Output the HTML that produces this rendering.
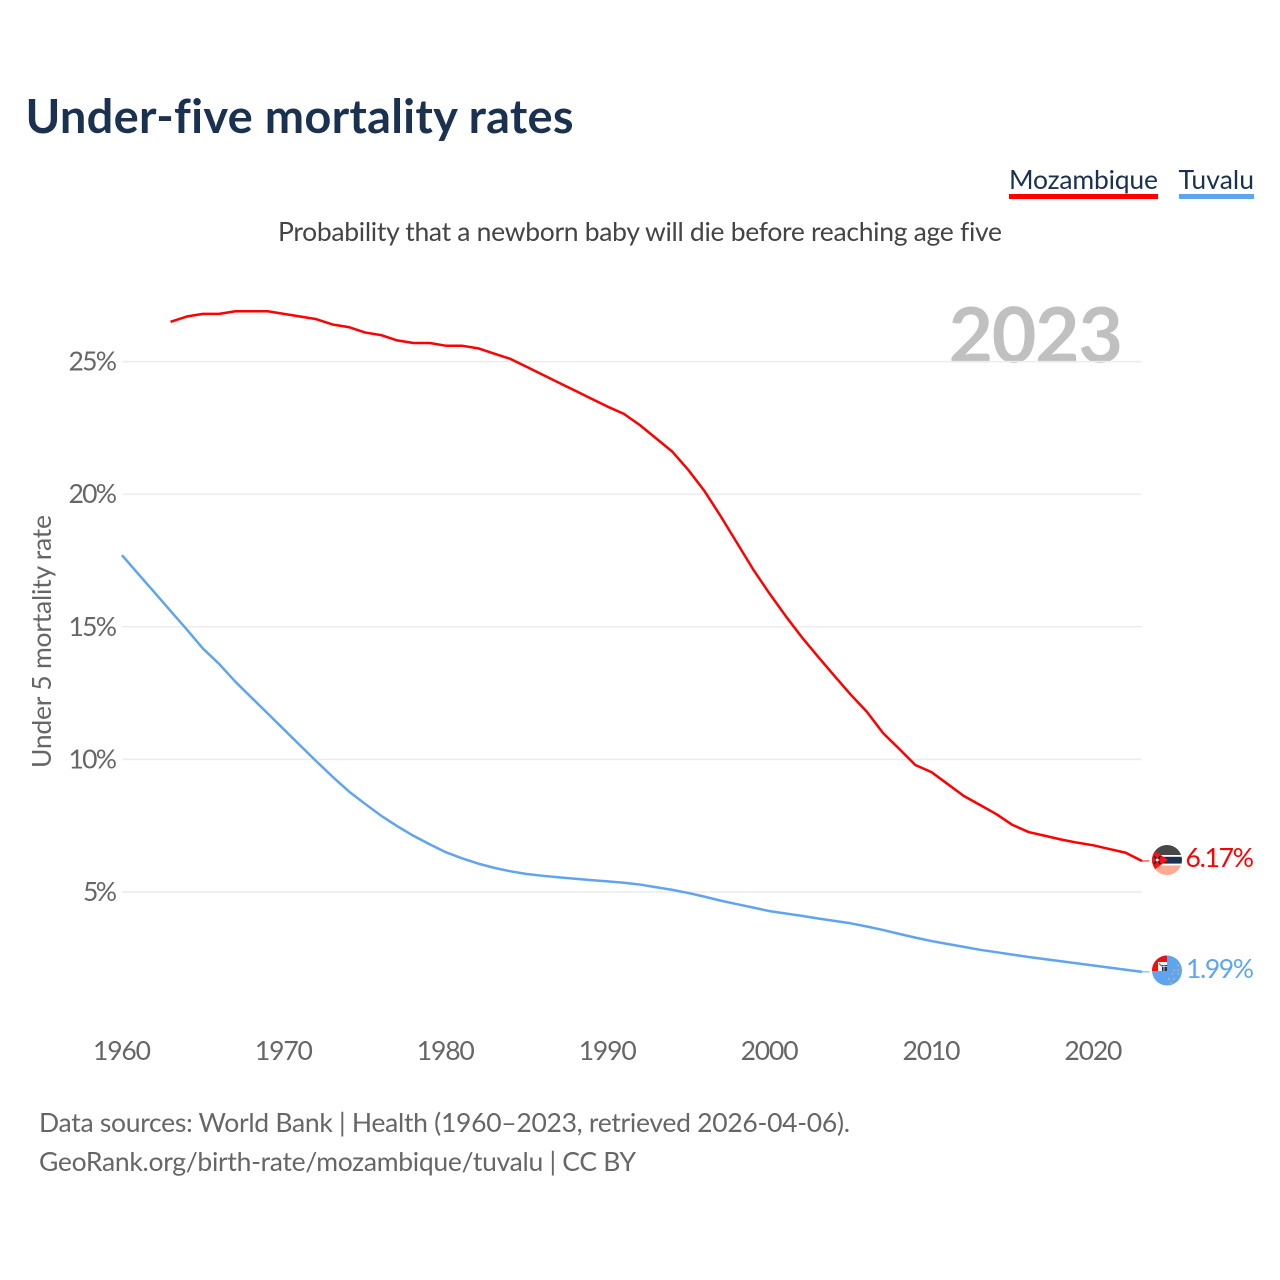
<!DOCTYPE html>
<html lang="en">
<head>
<meta charset="utf-8">
<title>Under-five mortality rates</title>
<style>
html,body{margin:0;padding:0;background:#fff;width:1280px;height:1280px;overflow:hidden}
svg{display:block}
text{font-family:"Lato","Carlito","Liberation Sans",sans-serif;font-variant-ligatures:none}
</style>
</head>
<body>
<svg id="chart" xmlns="http://www.w3.org/2000/svg" width="1280" height="1280" viewBox="0 0 1280 1280">
  <rect x="0" y="0" width="1280" height="1280" fill="#fff"/>
  <text x="25.500" y="133" font-size="47" font-weight="700" fill="#1a3150" textLength="548" lengthAdjust="spacing">Under-five mortality rates</text>
  <g>
    <text x="1009" y="189" font-size="26.500" fill="#1a3150" textLength="149" lengthAdjust="spacing">Mozambique</text>
    <rect x="1009" y="194" width="149" height="5" fill="#ff0000"/>
    <text x="1178.500" y="189" font-size="26.500" fill="#1a3150" textLength="75.500" lengthAdjust="spacing">Tuvalu</text>
    <rect x="1179" y="194" width="75" height="5" fill="#5fa5ee"/>
  </g>
  <text x="278" y="241" font-size="26.500" fill="#444" textLength="724" lengthAdjust="spacing">Probability that a newborn baby will die before reaching age five</text>
  <text x="948.500" y="362.500" font-size="77" font-weight="700" fill="#c0c0c0" textLength="174.500" lengthAdjust="spacing">2023</text>
  <text transform="translate(51,768) rotate(-90)" x="0" y="0" font-size="26.500" fill="#666" textLength="253" lengthAdjust="spacing">Under 5 mortality rate</text>
  <g id="grid"></g>
  <g id="yticks"></g>
  <g id="xticks"></g>
  <g id="lines"></g>

  <defs>
    <clipPath id="clip-moz"><circle cx="1167" cy="860" r="15"/></clipPath>
    <clipPath id="clip-tuv"><circle cx="1167" cy="970.500" r="15"/></clipPath>
  </defs>
  <g clip-path="url(#clip-moz)">
    <rect x="1152" y="845" width="30" height="30" fill="#fff"/>
    <rect x="1152" y="845" width="30" height="10" fill="#474747"/>
    <rect x="1152" y="856.800" width="30" height="6.800" fill="#1b3350"/>
    <rect x="1152" y="865.500" width="30" height="9.500" fill="#ffab92"/>
    <polygon points="1148,846 1168,860 1148,874" fill="#ff1010"/>
    <path d="M1154 856l6.500 8M1160.500 856l-6.500 8" stroke="#1b2a3a" stroke-width="1.700" fill="none"/>
    <circle cx="1157.200" cy="860" r="1.500" fill="#dfe6ee"/>
  </g>
  <g clip-path="url(#clip-tuv)">
    <rect x="1152" y="955" width="30" height="31" fill="#5fa5ee"/>
    <rect x="1152" y="955" width="15" height="16" fill="#f01010"/>
    <rect x="1158" y="962" width="9" height="9" fill="#f4f6fa"/>
    <path d="M1159 963.500l7 6.500" stroke="#c33" stroke-width="1" fill="none"/>
    <rect x="1162" y="965" width="5" height="6" fill="#1b3350"/>
    <path d="M1162 966.500h5M1164 965v6" stroke="#e8e8f0" stroke-width="0.800" fill="none"/>
    <g fill="#c9ad90">
      <rect x="1177.500" y="964.500" width="1.700" height="1.700"/>
      <rect x="1173.500" y="969.500" width="1.700" height="1.700"/>
      <rect x="1177.500" y="969.500" width="1.700" height="1.700"/>
      <rect x="1171.500" y="973" width="1.700" height="1.700"/>
      <rect x="1177.500" y="973" width="1.700" height="1.700"/>
      <rect x="1168" y="978" width="1.700" height="1.700"/>
      <rect x="1173" y="978" width="1.700" height="1.700"/>
      <rect x="1170" y="982" width="1.700" height="1.700"/>
    </g>
  </g>
  <text x="1185.500" y="867" font-size="26.500" fill="#ff0000" textLength="68.500" lengthAdjust="spacing">6.17%</text>
  <text x="1186" y="978" font-size="26.500" fill="#5fa5ee" textLength="68" lengthAdjust="spacing">1.99%</text>
  <text x="39" y="1132" font-size="26.500" fill="#666" textLength="811" lengthAdjust="spacing">Data sources: World Bank | Health (1960–2023, retrieved 2026-04-06).</text>
  <text x="39" y="1171" font-size="26.500" fill="#666" textLength="597" lengthAdjust="spacing">GeoRank.org/birth-rate/mozambique/tuvalu | CC BY</text>
</svg>
<script>
const xTickYears = [1960, 1970, 1980, 1990, 2000, 2010, 2020];
const yTickValues = [5, 10, 15, 20, 25];
const mozambiqueStartYear = 1963;
const mozambiqueValues = [26.5,26.7,26.8,26.8,26.9,26.9,26.9,26.8,26.7,26.6,26.4,26.3,26.1,26.0,25.8,25.7,25.7,25.6,25.6,25.5,25.3,25.1,24.8,24.5,24.2,23.9,23.6,23.3,23.03,22.6,22.1,21.6,20.9,20.1,19.15,18.15,17.15,16.25,15.4,14.6,13.87,13.15,12.45,11.8,11.0,10.4,9.79,9.52,9.07,8.62,8.28,7.94,7.53,7.26,7.12,6.98,6.86,6.76,6.62,6.48,6.17];
const tuvaluStartYear = 1960;
const tuvaluValues = [17.7,17.0,16.3,15.6,14.9,14.18,13.6,12.93,12.33,11.73,11.13,10.53,9.93,9.35,8.8,8.33,7.88,7.48,7.12,6.8,6.5,6.27,6.07,5.91,5.78,5.68,5.61,5.55,5.5,5.45,5.4,5.35,5.28,5.18,5.08,4.96,4.82,4.67,4.54,4.41,4.28,4.19,4.1,4.0,3.91,3.82,3.7,3.57,3.42,3.28,3.15,3.04,2.93,2.82,2.73,2.64,2.55,2.47,2.39,2.31,2.23,2.15,2.07,1.99];

const NS = 'http://www.w3.org/2000/svg';
function xScale(year){ return 122 + (year - 1960) * 16.19; }
function yScale(v){ return 892 - (v - 5) * 26.52; }
function make(tag, attrs, parent, txt){
  const el = document.createElementNS(NS, tag);
  for (const k in attrs) el.setAttribute(k, attrs[k]);
  if (txt !== undefined) el.textContent = txt;
  parent.appendChild(el);
  return el;
}
const grid = document.getElementById('grid');
const yticks = document.getElementById('yticks');
const xticks = document.getElementById('xticks');
const lines = document.getElementById('lines');

yTickValues.forEach(function(v){
  const line = make('line', {x1: 122, x2: 1142, y1: yScale(v), y2: yScale(v), stroke: '#ececec', 'stroke-width': 1.5}, grid);
  
  
  const label = v + '%';
  const t = make('text', {x: 117, y: yScale(v) + 9, 'font-size': 26.5, fill: '#666', 'text-anchor': 'end', textLength: (String(v).length * 14.5 + 19.5), lengthAdjust: 'spacing'}, yticks, label);
  
  
});
xTickYears.forEach(function(y){
  const t = make('text', {x: xScale(y), y: 1060, 'font-size': 26.5, fill: '#666', 'text-anchor': 'middle', textLength: 58, lengthAdjust: 'spacing'}, xticks, String(y));
  
  
});
function seriesPath(startYear, values){
  return values.map(function(v, i){
    return (i ? 'L' : 'M') + xScale(startYear + i).toFixed(2) + ' ' + yScale(v).toFixed(2);
  }).join(' ');
}
function endY(values){ return yScale(values[values.length - 1]); }

const mozConnector = make('line', {x1: xScale(2023), x2: 1149.5, y1: endY(mozambiqueValues), y2: endY(mozambiqueValues), stroke: '#ff0000', 'stroke-width': 1.2, opacity: 0.8}, lines);


const tuvConnector = make('line', {x1: xScale(2023), x2: 1149.5, y1: endY(tuvaluValues), y2: endY(tuvaluValues), stroke: '#5fa5ee', 'stroke-width': 1.2, opacity: 0.8}, lines);



const mozLine = make('path', {d: seriesPath(mozambiqueStartYear, mozambiqueValues), fill: 'none', stroke: '#ff0000', 'stroke-width': 2.5, 'stroke-linejoin': 'round'}, lines);


const tuvLine = make('path', {d: seriesPath(tuvaluStartYear, tuvaluValues), fill: 'none', stroke: '#5fa5ee', 'stroke-width': 2.5, 'stroke-linejoin': 'round'}, lines);


</script>
</body>
</html>
